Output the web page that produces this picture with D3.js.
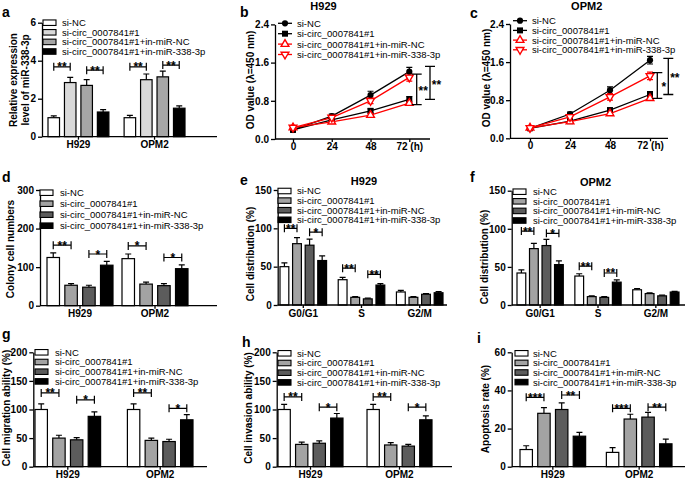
<!DOCTYPE html>
<html>
<head>
<meta charset="utf-8">
<script src="https://cdn.jsdelivr.net/npm/d3@7/dist/d3.min.js"></script>
<style>
  body { margin: 0; background: #fff; }
  svg { font-family: "Liberation Sans", Arial, sans-serif; display: block; }
</style>
</head>
<body>
<svg id="svg" width="685" height="482"></svg>
<script>
const svg = d3.select("#svg");
const FONT = '"Liberation Sans", Arial, sans-serif';

////////////////////////////  Data  ////////////////////////////
const groups = [
  "si-NC",
  "si-circ_0007841#1",
  "si-circ_0007841#1+in-miR-NC",
  "si-circ_0007841#1+in-miR-338-3p",
];
const cellLines = ["H929", "OPM2"];
const phases = ["G0/G1", "S", "G2/M"];
const hours = [0, 24, 48, 72];
const hourLabels = ["0", "24", "48", "72 (h)"];

// a - miR-338-3p level  [cell line][group]
const mirMean = [[1.0, 2.85, 2.7, 1.3], [1.0, 3.0, 3.15, 1.5]];
const mirErr = [[0.1, 0.27, 0.3, 0.12], [0.12, 0.3, 0.3, 0.12]];
// [category, bar A, bar B, value, label]
const mirSig = [[0, 0, 1, 3.68, "**"], [0, 2, 3, 3.5, "**"], [1, 0, 1, 3.68, "**"], [1, 2, 3, 3.77, "**"]];
const mirTicks = [0, 2, 4, 6];

// b, c - OD value  [group][hour]
const odH929 = [[0.19, 0.48, 0.92, 1.41], [0.19, 0.40, 0.59, 0.83], [0.24, 0.36, 0.50, 0.75], [0.24, 0.45, 0.80, 1.29]];
const odH929Err = [[0.02, 0.04, 0.08, 0.09], [0.02, 0.03, 0.04, 0.06], [0.02, 0.03, 0.03, 0.04], [0.02, 0.04, 0.06, 0.08]];
// [top, bottom, label]
const odH929Sig = [[1.36, 0.72, "**"], [1.52, 0.83, "**"]];
const odOPM2 = [[0.21, 0.51, 1.01, 1.64], [0.21, 0.36, 0.59, 0.92], [0.22, 0.35, 0.52, 0.84], [0.22, 0.45, 0.87, 1.31]];
const odOPM2Err = [[0.02, 0.04, 0.07, 0.08], [0.02, 0.03, 0.05, 0.06], [0.02, 0.03, 0.04, 0.04], [0.02, 0.04, 0.07, 0.08]];
const odOPM2Sig = [[1.38, 0.84, "*"], [1.68, 0.92, "**"]];
const odTicks = [0, 0.8, 1.6, 2.4];

// d - colony numbers
const colonyMean = [[125, 53, 48, 105], [122, 56, 52, 96]];
const colonyErr = [[12, 4, 5, 10], [12, 5, 5, 10]];
const colonySig = [[0, 0, 1, 157, "**"], [0, 2, 3, 134, "*"], [1, 0, 1, 155, "*"], [1, 2, 3, 125, "*"]];
const colonyTicks = [0, 100, 200, 300];

// e, f - cell distribution  [phase][group]
const cycleH929 = [[50, 80, 78, 58], [33, 10, 8, 26], [17, 10, 14, 16]];
const cycleH929Err = [[5, 8, 8, 6], [3, 1, 1, 2], [2, 1, 1, 1.5]];
const cycleH929Sig = [[0, 0, 1, 100, "**"], [0, 2, 3, 95, "*"], [1, 0, 1, 48, "**"], [1, 2, 3, 40, "**"]];
const cycleOPM2 = [[42, 74, 78, 53], [38, 11, 10, 30], [20, 15, 12, 17]];
const cycleOPM2Err = [[4, 7, 8, 5], [3, 1, 1, 3], [1.5, 1, 1, 1]];
const cycleOPM2Sig = [[0, 0, 1, 97, "**"], [0, 2, 3, 94, "*"], [1, 0, 1, 51, "**"], [1, 2, 3, 42, "**"]];
const cycleTicks = [0, 50, 100, 150];

// g - migration, h - invasion
const migMean = [[100, 50, 47, 88], [100, 46, 44, 82]];
const migErr = [[10, 5, 4, 8], [10, 4, 4, 9]];
const migSig = [[0, 0, 1, 129, "**"], [0, 2, 3, 117, "*"], [1, 0, 1, 129, "**"], [1, 2, 3, 102, "*"]];
const invMean = [[100, 39, 41, 85], [100, 38, 36, 82]];
const invErr = [[9, 4, 4, 8], [9, 4, 3, 7]];
const invSig = [[0, 0, 1, 122, "**"], [0, 2, 3, 104, "*"], [1, 0, 1, 122, "**"], [1, 2, 3, 104, "*"]];
const pctTicks = [0, 50, 100, 150, 200];

// i - apoptosis
const apoMean = [[9, 28, 30, 16], [7.5, 25, 26, 12]];
const apoErr = [[2, 3, 3.5, 2], [2.5, 2.5, 2.5, 2.5]];
const apoSig = [[0, 0, 1, 36.4, "***"], [0, 2, 3, 37.6, "**"], [1, 0, 1, 30.6, "***"], [1, 2, 3, 31.2, "**"]];
const apoTicks = [0, 20, 40, 60];

const fillsA = ["#ffffff", "#d9d9d9", "#a6a6a6", "#000000"];
const fills = ["#ffffff", "#a3a3a3", "#5c5c5c", "#000000"];
const lineColors = ["#000", "#000", "#f00", "#f00"];

////////////////////////////  Helpers  ////////////////////////////
function styleAxis(s) {
  s.attr("font-family", FONT).attr("font-size", 10).attr("font-weight", "bold");
  s.selectAll("text").attr("fill", "#000");
  s.selectAll("line, path").attr("stroke", "#000").attr("stroke-width", 1.3);
}

function drawYAxis(g, y, ticks, ax, fmt) {
  g.append("g")
    .attr("transform", `translate(${ax},0)`)
    .call(d3.axisLeft(y).tickValues(ticks).tickSize(4).tickSizeOuter(0).tickPadding(2).tickFormat(fmt))
    .call(styleAxis);
}

function letter(t, x, y) {
  svg.append("text").attr("x", x).attr("y", y).text(t)
    .attr("font-size", 14).attr("font-weight", "bold");
}

function title(t, x, y) {
  svg.append("text").attr("x", x).attr("y", y).text(t)
    .attr("text-anchor", "middle").attr("font-size", 11).attr("font-weight", "bold");
}

function yLabel(t, x, y) {
  svg.append("text")
    .attr("transform", `translate(${x},${y}) rotate(-90)`)
    .attr("text-anchor", "middle").attr("dy", "0.35em")
    .attr("font-size", 10).attr("font-weight", "bold")
    .text(t);
}

function stars(g, t, x, y) {
  g.append("text").attr("x", x).attr("y", y).text(t)
    .attr("text-anchor", "middle").attr("font-size", 12).attr("font-weight", "bold");
}

////////////////////////////  Bar panels  ////////////////////////////
function barPanel(p) {
  const g = svg.append("g");
  const y = d3.scaleLinear().domain([0, p.ticks[p.ticks.length - 1]]).range([p.yb, p.yt]);
  const x0 = d3.scaleBand().domain(p.cats).range([p.g0, p.g1]).paddingInner(p.gap);
  const x1 = d3.scaleBand().domain(d3.range(groups.length)).range([0, x0.bandwidth()]).paddingInner(0.3);
  const rows = p.cats.flatMap((c, i) => p.mean[i].map((v, k) => ({ c, k, v, e: p.err[i][k] })));
  const cx = (c, k) => x0(c) + x1(k) + x1.bandwidth() / 2;

  g.selectAll(".err").data(rows).join("path")
    .attr("d", (d) => `M${cx(d.c, d.k)},${y(d.v)}V${y(d.v + d.e)}M${cx(d.c, d.k) - 3},${y(d.v + d.e)}h6`)
    .attr("stroke", "#000").attr("stroke-width", 1.2).attr("fill", "none");

  g.selectAll(".bar").data(rows).join("rect")
    .attr("x", (d) => x0(d.c) + x1(d.k))
    .attr("y", (d) => y(d.v))
    .attr("width", x1.bandwidth())
    .attr("height", (d) => y(0) - y(d.v))
    .attr("fill", (d) => p.fills[d.k])
    .attr("stroke", "#000").attr("stroke-width", 1.2);

  drawYAxis(g, y, p.ticks, p.ax, d3.format("d"));
  g.append("g")
    .attr("transform", `translate(0,${p.yb})`)
    .call(d3.axisBottom(x0).tickSize(3).tickSizeOuter(0).tickPadding(1.5))
    .call(styleAxis)
    .call((s) => s.select(".domain").attr("d", `M${p.ax},0H${p.xr}`));

  // significance brackets
  p.sig.forEach(([ci, a, b, v, t]) => {
    const xa = cx(p.cats[ci], a), xb = cx(p.cats[ci], b), yy = y(v);
    g.append("path")
      .attr("d", `M${xa},${yy - 4}V${yy + 4}M${xa},${yy}H${xb}M${xb},${yy - 4}V${yy + 4}`)
      .attr("stroke", "#000").attr("stroke-width", 1.2).attr("fill", "none");
    stars(g, t, (xa + xb) / 2, yy + 4.5);
  });

  // legend
  groups.forEach((name, k) => {
    const ry = p.leg[2] + k * p.leg[3];
    g.append("rect").attr("x", p.leg[0]).attr("y", ry - 2.75).attr("width", 13).attr("height", 5.5)
      .attr("fill", p.fills[k]).attr("stroke", "#000").attr("stroke-width", 1.1);
    g.append("text").attr("x", p.leg[1]).attr("y", ry + 3.4).text(name).attr("font-size", 9.5);
  });
}

////////////////////////////  Line panels  ////////////////////////////
const symbols = [
  d3.symbol().type(d3.symbolCircle).size(30)(),
  d3.symbol().type(d3.symbolSquare).size(36)(),
  d3.symbol().type(d3.symbolTriangle).size(26)(),
  d3.symbol().type(d3.symbolTriangle).size(26)(),
];

function marker(g, k, x, y) {
  g.append("path")
    .attr("d", symbols[k])
    .attr("transform", `translate(${x},${y})${k === 3 ? " rotate(180)" : ""}`)
    .attr("fill", k < 2 ? "#000" : "#fff")
    .attr("stroke", lineColors[k]).attr("stroke-width", k < 2 ? 0 : 1.4);
}

function linePanel(p) {
  const g = svg.append("g");
  const x = d3.scaleLinear().domain([0, 72]).range([p.x0, p.x72]);
  const y = d3.scaleLinear().domain([0, odTicks[odTicks.length - 1]]).range([p.yb, p.yt]);

  drawYAxis(g, y, odTicks, p.ax, d3.format(".1f"));
  g.append("g")
    .attr("transform", `translate(0,${p.yb})`)
    .call(d3.axisBottom(x).tickValues(hours).tickFormat((d, i) => hourLabels[i]).tickSize(3).tickSizeOuter(0).tickPadding(1))
    .call(styleAxis)
    .call((s) => s.select(".domain").attr("d", `M${p.ax},0H${p.xr}`));

  const line = d3.line().x((d, i) => x(hours[i])).y((d) => y(d));
  p.mean.forEach((ser, k) => {
    g.append("path").attr("d", line(ser)).attr("fill", "none")
      .attr("stroke", lineColors[k]).attr("stroke-width", 1.3);
  });
  p.mean.forEach((ser, k) => {
    ser.forEach((v, i) => {
      const e = p.err[k][i], xx = x(hours[i]);
      g.append("path")
        .attr("d", `M${xx},${y(v - e)}V${y(v + e)}M${xx - 3},${y(v + e)}h6M${xx - 3},${y(v - e)}h6`)
        .attr("stroke", lineColors[k]).attr("stroke-width", 1.2).attr("fill", "none");
    });
  });
  p.mean.forEach((ser, k) => ser.forEach((v, i) => marker(g, k, x(hours[i]), y(v))));

  // brackets right of the last time point
  p.sig.forEach(([top, bot, t], j) => {
    const bx = p.bx[j];
    g.append("path")
      .attr("d", `M${bx - 5},${y(top)}h10M${bx},${y(top)}V${y(bot)}M${bx - 5},${y(bot)}h10`)
      .attr("stroke", "#000").attr("stroke-width", 1.3).attr("fill", "none");
    stars(g, t, bx + 6.5, y((top + bot) / 2) + 6);
  });

  // legend
  groups.forEach((name, k) => {
    const ry = p.leg[1] + k * p.leg[2];
    g.append("path").attr("d", `M${p.leg[0]},${ry}h14`).attr("stroke", lineColors[k]).attr("stroke-width", 1.3);
    marker(g, k, p.leg[0] + 7, ry);
    g.append("text").attr("x", p.leg[0] + 19).attr("y", ry + 3.4).text(name).attr("font-size", 9.5);
  });
}

////////////////////////////  Draw  ////////////////////////////
// row 1
barPanel({ cats: cellLines, mean: mirMean, err: mirErr, sig: mirSig, ticks: mirTicks, fills: fillsA,
  ax: 42, g0: 48, g1: 185, xr: 217, yt: 22.7, yb: 136.7, gap: 0.2, leg: [43, 62, 22.7, 9.6] });
letter("a", 2, 17);
yLabel("Relative expression", 13, 80);
yLabel("level of miR-338-3p", 25, 80);

linePanel({ mean: odH929, err: odH929Err, sig: odH929Sig,
  ax: 275, xr: 430, x0: 293, x72: 409.3, yt: 24.4, yb: 139, bx: [416.7, 430], leg: [278, 23.3, 10.4] });
letter("b", 240, 17);
title("H929", 323.5, 10);
yLabel("OD value (\u03bb=450 nm)", 250, 80);

linePanel({ mean: odOPM2, err: odOPM2Err, sig: odOPM2Sig,
  ax: 510, xr: 668, x0: 530, x72: 650, yt: 24, yb: 138.3, bx: [657.3, 668.3], leg: [513, 20.7, 9.7] });
letter("c", 470, 18);
title("OPM2", 586.7, 9.5);
yLabel("OD value (\u03bb=450 nm)", 486.7, 78);

// row 2
barPanel({ cats: cellLines, mean: colonyMean, err: colonyErr, sig: colonySig, ticks: colonyTicks, fills,
  ax: 40, g0: 47, g1: 188, xr: 217, yt: 190, yb: 305.7, gap: 0.12, leg: [40, 60, 192.7, 11] });
letter("d", 2, 182);
yLabel("Colony cell numbers", 10, 249);

barPanel({ cats: phases, mean: cycleH929, err: cycleH929Err, sig: cycleH929Sig, ticks: cycleTicks, fills,
  ax: 277.7, g0: 280, g1: 443, xr: 447, yt: 190, yb: 305, gap: 0.2, leg: [278, 297, 191, 9.6] });
letter("e", 240, 185);
title("H929", 364, 185);
yLabel("Cell distribution (%)", 250, 254);

barPanel({ cats: phases, mean: cycleOPM2, err: cycleOPM2Err, sig: cycleOPM2Sig, ticks: cycleTicks, fills,
  ax: 511.7, g0: 517, g1: 679, xr: 685, yt: 190.7, yb: 305, gap: 0.2, leg: [513, 533, 191.7, 9.6] });
letter("f", 470, 182);
title("OPM2", 595.5, 186);
yLabel("Cell distribution (%)", 484.3, 257);

// row 3
barPanel({ cats: cellLines, mean: migMean, err: migErr, sig: migSig, ticks: pctTicks, fills,
  ax: 33.3, g0: 35, g1: 193, xr: 207, yt: 352.3, yb: 466.7, gap: 0.29, leg: [35, 55, 352.3, 9.7] });
letter("g", 2, 339);
yLabel("Cell migration ability (%)", 6.7, 408);

barPanel({ cats: cellLines, mean: invMean, err: invErr, sig: invSig, ticks: pctTicks, fills,
  ax: 276.7, g0: 278, g1: 432, xr: 452, yt: 352.3, yb: 466.7, gap: 0.27, leg: [278, 297, 353.3, 9.7] });
letter("h", 242, 347);
yLabel("Cell invasion ability (%)", 248.3, 408);

barPanel({ cats: cellLines, mean: apoMean, err: apoErr, sig: apoSig, ticks: apoTicks, fills,
  ax: 511.7, g0: 520, g1: 672, xr: 685, yt: 352.3, yb: 466.7, gap: 0.24, leg: [515, 533, 353.3, 9.6] });
letter("i", 477, 343);
yLabel("Apoptosis rate (%)", 485, 409);
</script>
</body>
</html>
